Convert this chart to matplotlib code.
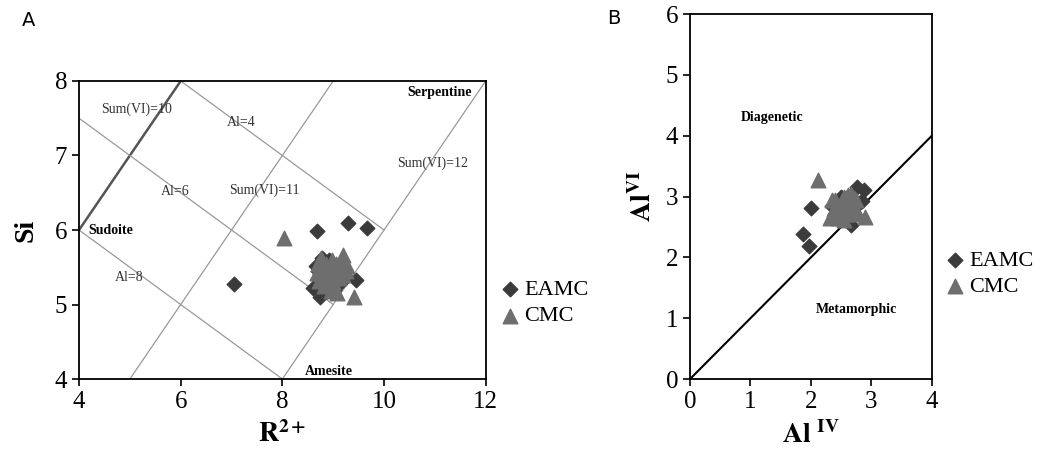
import matplotlib
matplotlib.use("Agg")
from matplotlib import pyplot as plt

plt.rcParams['font.family'] = ['Liberation Serif', 'DejaVu Serif']
plt.rcParams['mathtext.fontset'] = 'stix'

# panel A: R2+ vs Si
eamc_a_r = [8.68, 9.29, 9.66, 9.44, 8.60, 8.75, 7.05, 8.80, 8.90, 9.00, 8.85, 8.95,
            9.05, 8.70, 9.10, 8.92, 8.78, 9.02, 9.15, 8.88, 8.66, 9.22]
eamc_a_si = [5.98, 6.10, 6.03, 5.33, 5.22, 5.10, 5.27, 5.55, 5.50, 5.40, 5.35, 5.30,
             5.25, 5.45, 5.38, 5.60, 5.62, 5.20, 5.30, 5.18, 5.52, 5.42]
cmc_a_r = [8.03, 9.40, 9.19, 8.75, 8.85, 8.95, 9.05, 8.80, 8.90, 9.00, 9.10, 8.70,
           9.25, 8.98, 8.86, 9.12, 9.02, 8.76, 8.92, 9.20, 8.68, 9.08, 8.82, 9.15,
           8.95, 9.05, 8.72, 9.28]
cmc_a_si = [5.89, 5.10, 5.66, 5.50, 5.55, 5.48, 5.42, 5.40, 5.35, 5.30, 5.50, 5.55,
            5.45, 5.60, 5.28, 5.35, 5.22, 5.62, 5.45, 5.40, 5.42, 5.15, 5.25, 5.58,
            5.18, 5.55, 5.32, 5.52]

# field lines in panel A (x pairs, y pairs)
sum_lines = {'Sum(VI)=10': ([4, 6], [6, 8]),
             'Sum(VI)=11': ([5, 9], [4, 8]),
             'Sum(VI)=12': ([8, 12], [4, 8])}
al_lines = {'Al=4': ([6, 10], [8, 6]),
            'Al=6': ([4, 9], [7.5, 5]),
            'Al=8': ([4, 8], [6, 4])}

# panel B: AlIV vs AlVI
eamc_b_x = [2.00, 1.87, 1.97, 2.67, 2.76, 2.88, 2.35, 2.45, 2.55, 2.60, 2.70, 2.50,
            2.62, 2.80, 2.40, 2.58, 2.72, 2.85]
eamc_b_y = [2.82, 2.39, 2.19, 2.53, 3.16, 3.10, 2.85, 2.80, 2.90, 2.75, 2.95, 3.00,
            2.70, 2.90, 2.72, 2.98, 2.82, 2.92]
cmc_b_x = [2.12, 2.31, 2.89, 2.40, 2.50, 2.55, 2.60, 2.65, 2.45, 2.70, 2.52, 2.58,
           2.38, 2.75, 2.62, 2.48, 2.68, 2.56, 2.35, 2.78, 2.44, 2.66, 2.54, 2.72]
cmc_b_y = [3.28, 2.65, 2.67, 2.95, 2.85, 3.00, 2.80, 2.90, 2.75, 2.85, 2.92, 2.72,
           2.80, 2.95, 3.02, 2.82, 2.78, 2.88, 2.95, 2.72, 2.65, 3.05, 2.62, 2.98]

dark = '#3b3b3b'
grey = '#6e6e6e'

fig = plt.figure(figsize=(10.4, 4.55), dpi=100)
axA = fig.add_axes([0.076, 0.167, 0.391, 0.655])
axB = fig.add_axes([0.6635, 0.167, 0.2325, 0.802])

for ax in (axA, axB):
    for s in ax.spines.values():
        s.set_linewidth(1.3)
    ax.tick_params(direction='out', length=5, width=1.2, labelsize=18)

'''
panel A
'''
for name, (xs, ys) in sum_lines.items():
    if name == 'Sum(VI)=10':
        axA.plot(xs, ys, color='#555555', lw=1.8)
    else:
        axA.plot(xs, ys, color='#999999', lw=0.9)
for name, (xs, ys) in al_lines.items():
    axA.plot(xs, ys, color='#999999', lw=0.9)

axA.scatter(eamc_a_r, eamc_a_si, marker='D', s=55, color=dark, label='EAMC', zorder=3)
axA.scatter(cmc_a_r, cmc_a_si, marker='^', s=110, color=grey, label='CMC', zorder=4)

small = dict(fontsize=10, color='#333333')
axA.text(5.14, 7.62, 'Sum(VI)=10', ha='center', va='center', **small)
axA.text(7.2, 7.44, 'Al=4', ha='center', va='center', **small)
axA.text(10.96, 6.89, 'Sum(VI)=12', ha='center', va='center', **small)
axA.text(5.9, 6.52, 'Al=6', ha='center', va='center', **small)
axA.text(7.64, 6.54, 'Sum(VI)=11', ha='center', va='center', **small)
axA.text(4.98, 5.36, 'Al=8', ha='center', va='center', **small)
axA.text(4.18, 6.0, 'Sudoite', ha='left', va='center', fontsize=10, fontweight='bold')
axA.text(11.1, 7.85, 'Serpentine', ha='center', va='center', fontsize=10, fontweight='bold')
axA.text(8.92, 4.1, 'Amesite', ha='center', va='center', fontsize=10, fontweight='bold')

axA.set_xlim(4, 12)
axA.set_ylim(4, 8)
axA.set_xticks([4, 6, 8, 10, 12])
axA.set_yticks([4, 5, 6, 7, 8])
axA.set_xlabel(r'$\mathbf{R}^{\mathbf{2+}}$', fontsize=20, labelpad=6)
axA.set_ylabel('Si', fontsize=20, fontweight='bold', labelpad=12)
axA.legend(loc='center left', bbox_to_anchor=(1.0, 0.255), frameon=False, fontsize=16,
           handletextpad=0.05, handlelength=1.2, borderpad=0, labelspacing=0.25)

'''
panel B
'''
axB.plot([0, 4], [0, 4], color='black', lw=1.5)
axB.scatter(eamc_b_x, eamc_b_y, marker='D', s=55, color=dark, label='EAMC', zorder=3)
axB.scatter(cmc_b_x, cmc_b_y, marker='^', s=110, color=grey, label='CMC', zorder=4)
axB.text(1.35, 4.3, 'Diagenetic', ha='center', va='center', fontsize=10, fontweight='bold')
axB.text(2.75, 1.15, 'Metamorphic', ha='center', va='center', fontsize=10, fontweight='bold')

axB.set_xlim(0, 4)
axB.set_ylim(0, 6)
axB.set_xticks([0, 1, 2, 3, 4])
axB.set_yticks([0, 1, 2, 3, 4, 5, 6])
axB.set_xlabel(r'$\mathbf{Al\ ^{IV}}$', fontsize=20, labelpad=6)
axB.set_ylabel(r'$\mathbf{Al^{VI}}$', fontsize=20, labelpad=6)
axB.legend(loc='center left', bbox_to_anchor=(0.995, 0.288), frameon=False, fontsize=16,
           handletextpad=0.05, handlelength=1.2, borderpad=0, labelspacing=0.25)

fig.text(0.021, 0.955, 'A', fontsize=14, family='DejaVu Sans', va='center')
fig.text(0.584, 0.96, 'B', fontsize=14, family='DejaVu Sans', va='center')

fig.savefig('out.png', dpi=100)
